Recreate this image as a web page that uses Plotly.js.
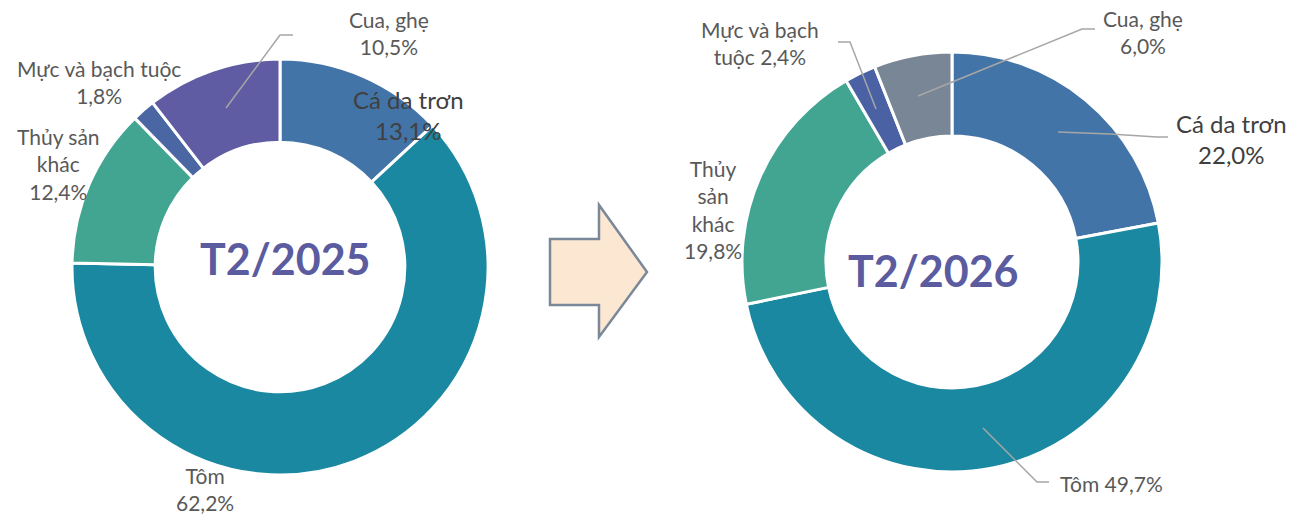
<!DOCTYPE html>
<html><head><meta charset="utf-8">
<script src="https://cdn.plot.ly/plotly-3.0.1.min.js"></script>
<style>html,body{margin:0;padding:0;background:#fff}#chart{width:1291px;height:516px}</style>
</head><body><div id="chart"></div>
<script>
// Data
const categories = ["Cá da trơn", "Tôm", "Thủy sản khác", "Mực và bạch tuộc", "Cua, ghẹ"];
const values2025 = [13.1, 62.2, 12.4, 1.8, 10.5];
const values2026 = [22.0, 49.7, 19.8, 2.4, 6.0];
const periodLabels = ["T2/2025", "T2/2026"];
const colors2025 = ["#4374a8", "#1a88a0", "#42a591", "#4a66a3", "#5f5ca3"];
const colors2026 = ["#4374a8", "#1a88a0", "#42a591", "#4a62a4", "#798696"];

const W = 1291, H = 516;
const px = x => x / W;
const py = y => 1 - y / H;
const fmt = v => v.toFixed(1).replace('.', ',') + '%';

const FONT = "Lato, 'Open Sans', sans-serif";
const LBL = '#595959';

function pieTrace(vals, cols, cx, cy, r) {
  return {
    type: 'pie', values: vals, labels: categories, sort: false, direction: 'clockwise',
    rotation: 0, hole: 0.6, textinfo: 'none', hoverinfo: 'label+percent',
    marker: {colors: cols, line: {color: '#ffffff', width: 3}},
    domain: {x: [px(cx - r), px(cx + r)], y: [py(cy + r), py(cy - r)]}
  };
}

const data = [
  pieTrace(values2025, colors2025, 280, 267, 208),
  pieTrace(values2026, colors2026, 952, 262, 210)
];

function ann(text, x, y, size, color) {
  return {text: text, x: px(x), y: py(y), xref: 'paper', yref: 'paper', showarrow: false,
    xanchor: 'center', yanchor: 'middle', align: 'center',
    font: {family: FONT, size: size || 21, color: color || LBL}};
}

const annotations = [
  // left
  ann(categories[4] + '<br>' + fmt(values2025[4]), 389, 33),
  ann(categories[0] + '<br>' + fmt(values2025[0]), 408, 115, 24, '#404040'),
  ann(categories[3] + '<br>' + fmt(values2025[3]), 99, 82),
  ann('Thủy sản<br>khác<br>' + fmt(values2025[2]), 58, 164),
  ann(categories[1] + '<br>' + fmt(values2025[1]), 205, 489),
  // right
  ann('Mực và bạch<br>tuộc ' + fmt(values2026[3]), 760, 43),
  ann(categories[4] + '<br>' + fmt(values2026[4]), 1143, 32),
  ann(categories[0] + '<br>' + fmt(values2026[0]), 1231, 139, 24, '#404040'),
  ann('Thủy<br>sản<br>khác<br>' + fmt(values2026[2]), 713, 209),
  ann(categories[1] + ' ' + fmt(values2026[1]), 1111, 483),
  // centers
  {text: '<b>' + periodLabels[0] + '</b>', x: px(285), y: py(258), xref: 'paper', yref: 'paper', showarrow: false,
   xanchor: 'center', yanchor: 'middle',
   font: {family: FONT, size: 43, color: '#5b5ba0'}},
  {text: '<b>' + periodLabels[1] + '</b>', x: px(933), y: py(270), xref: 'paper', yref: 'paper', showarrow: false,
   xanchor: 'center', yanchor: 'middle',
   font: {family: FONT, size: 43, color: '#5b5ba0'}}
];

function poly(points) {
  return 'M' + points.map(p => px(p[0]) + ',' + py(p[1])).join('L');
}
const lineStyle = {color: '#a6a6a6', width: 1.5};
const shapes = [
  {type: 'path', xref: 'paper', yref: 'paper', path: poly([[226,108],[280,35],[293,35]]), line: lineStyle},
  {type: 'path', xref: 'paper', yref: 'paper', path: poly([[838,42],[850,42],[876,109]]), line: lineStyle},
  {type: 'path', xref: 'paper', yref: 'paper', path: poly([[1095,29],[1082,29],[918,96]]), line: lineStyle},
  {type: 'path', xref: 'paper', yref: 'paper', path: poly([[1058,132],[1110,134],[1157,137],[1168,137]]), line: lineStyle},
  {type: 'path', xref: 'paper', yref: 'paper', path: poly([[983,428],[1037,482],[1049,482]]), line: lineStyle},
  // arrow
  {type: 'path', xref: 'paper', yref: 'paper',
   path: poly([[550,239],[599,239],[599,205],[647,272],[599,337],[599,305],[550,305]]) + 'Z',
   fillcolor: '#fce8d2', line: {color: '#7a8898', width: 2.5}}
];

const layout = {
  width: W, height: H, margin: {l: 0, r: 0, t: 0, b: 0},
  paper_bgcolor: '#ffffff', plot_bgcolor: '#ffffff', showlegend: false,
  font: {family: FONT},
  annotations: annotations, shapes: shapes
};
Plotly.newPlot('chart', data, layout, {displayModeBar: false, staticPlot: true});
</script></body></html>
